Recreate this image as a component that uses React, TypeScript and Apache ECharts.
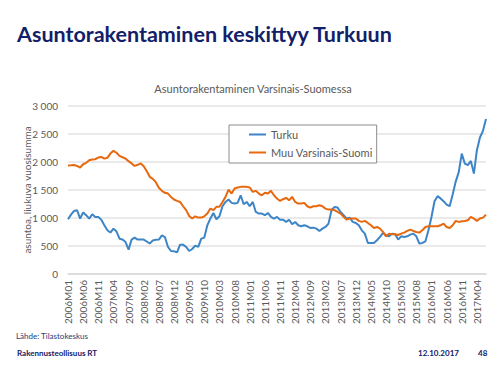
import React, { useEffect, useRef } from "react";
import * as echarts from "echarts";

const turku: number[] = [
  977, 1060, 1126, 1138, 990, 1100, 1050, 990, 1067, 1020,
  1020, 970, 870, 780, 740, 810, 763, 630, 615, 570,
  435, 615, 650, 615, 615, 615, 580, 545, 600, 610,
  615, 690, 660, 483, 411, 405, 387, 524, 524, 483,
  411, 447, 507, 483, 632, 650, 870, 990, 1090, 977,
  1031, 1210, 1287, 1330, 1270, 1258, 1270, 1406, 1246, 1287,
  1210, 1287, 1108, 1080, 1080, 1050, 1090, 1020, 990, 1020,
  970, 970, 930, 970, 888, 930, 870, 852, 870, 852,
  822, 828, 810, 769, 810, 840, 900, 1138, 1198, 1186,
  1108, 1050, 990, 1007, 930, 912, 870, 780, 721, 554,
  554, 554, 602, 662, 733, 691, 673, 721, 709, 614,
  673, 661, 673, 703, 721, 673, 542, 554, 584, 781,
  1019, 1300, 1390, 1350, 1300, 1240, 1210, 1420, 1650, 1820,
  2150, 1973, 1943, 2020, 1794, 2211, 2438, 2557, 2770,
];

const muuVarsinaisSuomi: number[] = [
  1937, 1940, 1945, 1930, 1900, 1960, 1985, 2030, 2045, 2050,
  2080, 2090, 2060, 2075, 2150, 2200, 2165, 2110, 2085, 2060,
  2015, 1975, 1930, 1950, 1975, 1925, 1835, 1735, 1700, 1640,
  1540, 1485, 1450, 1436, 1377, 1330, 1305, 1287, 1210, 1140,
  1037, 990, 1030, 1007, 1007, 1030, 1080, 1168, 1140, 1200,
  1200, 1287, 1377, 1508, 1436, 1526, 1544, 1556, 1556, 1556,
  1544, 1466, 1485, 1436, 1406, 1450, 1436, 1485, 1406, 1347,
  1305, 1335, 1359, 1317, 1377, 1287, 1258, 1258, 1270, 1210,
  1186, 1210, 1210, 1228, 1210, 1168, 1150, 1150, 1140, 1108,
  1080, 1020, 970, 990, 990, 990, 948, 930, 948, 912,
  870, 822, 840, 811, 751, 673, 721, 709, 709, 697,
  721, 739, 769, 793, 769, 751, 739, 781, 840, 852,
  852, 852, 852, 870, 900, 840, 822, 870, 948, 930,
  942, 948, 960, 1019, 990, 948, 990, 1007, 1061,
];

const startYear = 2006;
const months: string[] = [];
for (let i = 0; i < turku.length; i++) {
  const y = startYear + Math.floor(i / 12);
  const m = (i % 12) + 1;
  months.push(`${y}M${m < 10 ? "0" + m : m}`);
}

const seriesNames = ["Turku", "Muu Varsinais-Suomi"];
const pageTitle = "Asuntorakentaminen keskittyy Turkuun";
const chartTitle = "Asuntorakentaminen Varsinais-Suomessa";
const yAxisName = "asuntoa, liukuva vuosisumma";

const FONT = "Lato, 'Open Sans', sans-serif";
const BLUE = "#3d85c6";
const ORANGE = "#e8680e";

export default function App() {
  const ref = useRef<HTMLDivElement>(null);
  useEffect(() => {
    if (!ref.current) return;
    const chart = echarts.init(ref.current, undefined, { renderer: "svg" });
    chart.setOption({
      animation: false,
      backgroundColor: "#ffffff",
      textStyle: { fontFamily: FONT },
      title: {
        text: chartTitle,
        left: 248,
        top: 78,
        textAlign: "center",
        textStyle: { fontSize: 11, fontWeight: "normal", color: "#595959", fontFamily: FONT },
      },
      legend: {
        orient: "vertical",
        left: 229,
        top: 125,
        padding: [4, 4, 5, 20],
        icon: "rect",
        itemWidth: 17,
        itemHeight: 2,
        itemGap: 7,
        borderColor: "#8c8c8c",
        borderWidth: 1,
        backgroundColor: "#ffffff",
        data: seriesNames,
        textStyle: { fontSize: 11, color: "#595959", fontFamily: FONT },
      },
      grid: { left: 68, right: 14, top: 106, bottom: 92, containLabel: false },
      xAxis: {
        type: "category",
        data: months,
        boundaryGap: false,
        axisLine: { lineStyle: { color: "#d9d9d9", width: 1.5 } },
        axisTick: { show: false },
        axisLabel: {
          interval: 4,
          rotate: 90,
          fontSize: 10,
          color: "#595959",
          margin: 6,
          fontFamily: FONT,
        },
      },
      yAxis: {
        type: "value",
        min: 0,
        max: 3000,
        interval: 500,
        name: yAxisName,
        nameLocation: "middle",
        nameGap: 36,
        nameMoveOverlap: false,
        nameTextStyle: { fontSize: 10, color: "#595959", fontFamily: FONT },
        axisLine: { show: false },
        axisTick: { show: false },
        axisLabel: {
          fontSize: 10,
          color: "#595959",
          margin: 10,
          fontFamily: FONT,
          formatter: (v: number) =>
            v >= 1000 ? `${Math.floor(v / 1000)} ${String(v % 1000).padStart(3, "0")}` : String(v),
        },
        splitLine: { lineStyle: { color: "#e3e3e3", width: 1.5 } },
      },
      series: [
        {
          name: seriesNames[0],
          type: "line",
          data: turku,
          symbol: "none",
          lineStyle: { color: BLUE, width: 2 },
          itemStyle: { color: BLUE },
        },
        {
          name: seriesNames[1],
          type: "line",
          data: muuVarsinaisSuomi,
          symbol: "none",
          lineStyle: { color: ORANGE, width: 2 },
          itemStyle: { color: ORANGE },
        },
      ],
      graphic: [
        {
          type: "text",
          left: 17,
          top: 23,
          style: {
            text: pageTitle,
            fontSize: 21.5,
            fontWeight: "bold",
            fill: "#122069",
            fontFamily: FONT,
          },
        },
        {
          type: "text",
          left: 16,
          top: 332,
          style: { text: "Lähde: Tilastokeskus", fontSize: 8, fill: "#1f3a78", fontFamily: FONT },
        },
        {
          type: "text",
          left: 17,
          top: 349,
          style: { text: "Rakennusteollisuus RT", fontSize: 8, fontWeight: "bold", fill: "#122069", fontFamily: FONT },
        },
        {
          type: "text",
          left: 418,
          top: 349,
          style: { text: "12.10.2017", fontSize: 8, fontWeight: "bold", fill: "#122069", fontFamily: FONT },
        },
        {
          type: "text",
          left: 478,
          top: 349,
          style: { text: "48", fontSize: 8, fontWeight: "bold", fill: "#122069", fontFamily: FONT },
        },
      ],
    });
    return () => chart.dispose();
  }, []);
  return (
    <div
      ref={ref}
      style={{ position: "fixed", left: 0, top: 0, width: 500, height: 366 }}
    />
  );
}
